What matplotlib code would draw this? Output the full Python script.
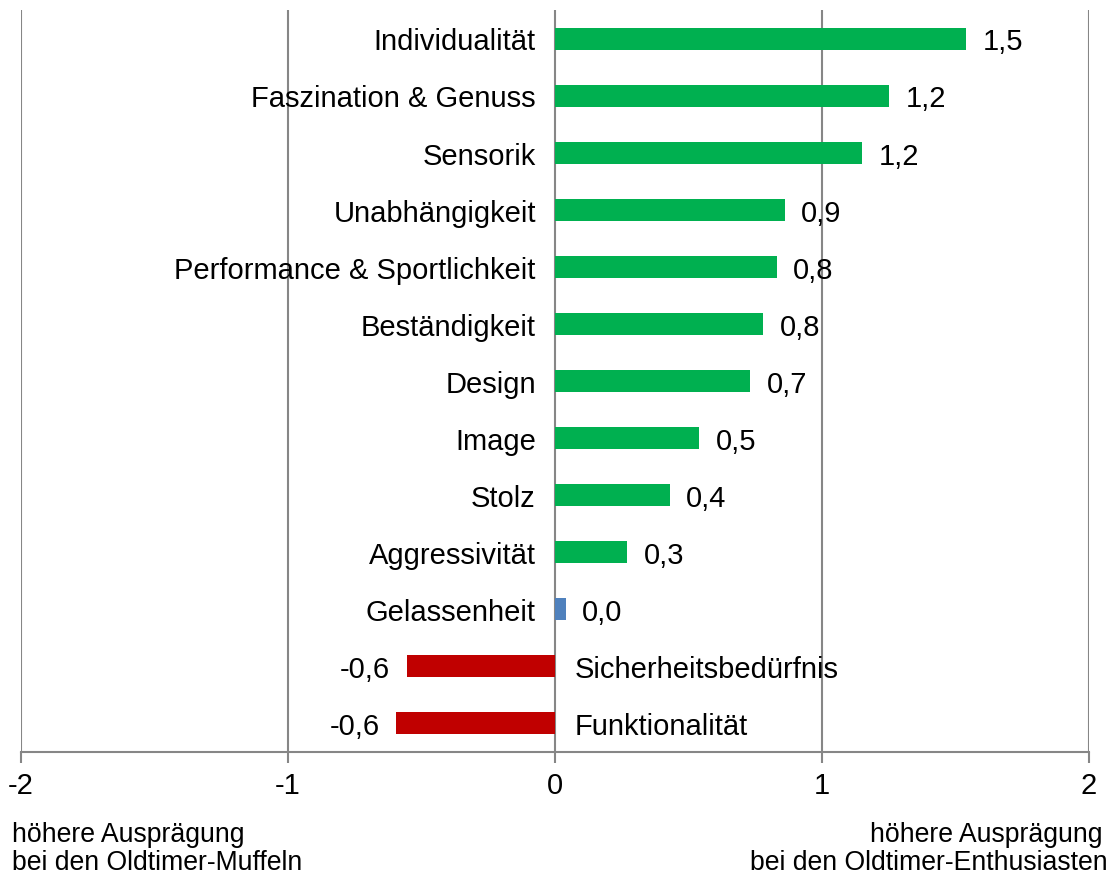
import matplotlib.pyplot as plt

plt.rcParams["font.family"] = ["Liberation Sans", "DejaVu Sans"]

# values
categories = [
    "Individualität", "Faszination & Genuss", "Sensorik", "Unabhängigkeit",
    "Performance & Sportlichkeit", "Beständigkeit", "Design", "Image",
    "Stolz", "Aggressivität", "Gelassenheit", "Sicherheitsbedürfnis",
    "Funktionalität",
]
values = [1.54, 1.25, 1.15, 0.86, 0.83, 0.78, 0.73, 0.54, 0.43, 0.27, 0.04, -0.555, -0.595]
value_labels = ["1,5", "1,2", "1,2", "0,9", "0,8", "0,8", "0,7", "0,5", "0,4", "0,3", "0,0", "-0,6", "-0,6"]
bar_colors = ["#00B050"] * 10 + ["#4F81BD"] + ["#C00000"] * 2
xticks = [-2, -1, 0, 1, 2]

grid_color = "#868686"
fs = 21

fig = plt.figure(figsize=(11.17, 8.78), dpi=100)
ax = fig.add_axes([21 / 1117, 1 - 753 / 878, (1089 - 21) / 1117, (753 - 11) / 878])

ypos = list(range(len(categories)))
ax.barh(ypos, values, height=0.385, color=bar_colors, zorder=3)

ax.set_xlim(-2, 2)
ax.set_ylim(len(categories) - 0.5, -0.5)

for x in xticks:
    ax.axvline(x, color=grid_color, lw=1.5, zorder=1)

for sp in ["top", "right", "left"]:
    ax.spines[sp].set_visible(False)
ax.spines["bottom"].set_color(grid_color)
ax.spines["bottom"].set_linewidth(1.5)

ax.set_yticks([])
ax.set_xticks(xticks)
ax.set_xticklabels([str(x) for x in xticks])
ax.tick_params(axis="x", direction="out", length=8, width=1.5, color=grid_color,
               labelsize=fs, pad=6)

off_cat = 0.072
off_val = 0.062
dy = 0.05
for y, v, cat, lab in zip(ypos, values, categories, value_labels):
    if v >= 0:
        ax.text(-off_cat, y + dy, cat, ha="right", va="center", fontsize=fs)
        ax.text(v + off_val, y + dy, lab, ha="left", va="center", fontsize=fs)
    else:
        ax.text(off_cat, y + dy, cat, ha="left", va="center", fontsize=fs)
        ax.text(v - off_val, y + dy, lab, ha="right", va="center", fontsize=fs)

bfs = 19.2
fig.text(12 / 1117, 1 - 835 / 878, "höhere Ausprägung", ha="left", va="center", fontsize=bfs)
fig.text(12 / 1117, 1 - 863 / 878, "bei den Oldtimer-Muffeln", ha="left", va="center", fontsize=bfs)
fig.text(1103 / 1117, 1 - 835 / 878, "höhere Ausprägung", ha="right", va="center", fontsize=bfs)
fig.text(1108 / 1117, 1 - 863 / 878, "bei den Oldtimer-Enthusiasten", ha="right", va="center", fontsize=bfs)

fig.savefig("out.png", dpi=100)
